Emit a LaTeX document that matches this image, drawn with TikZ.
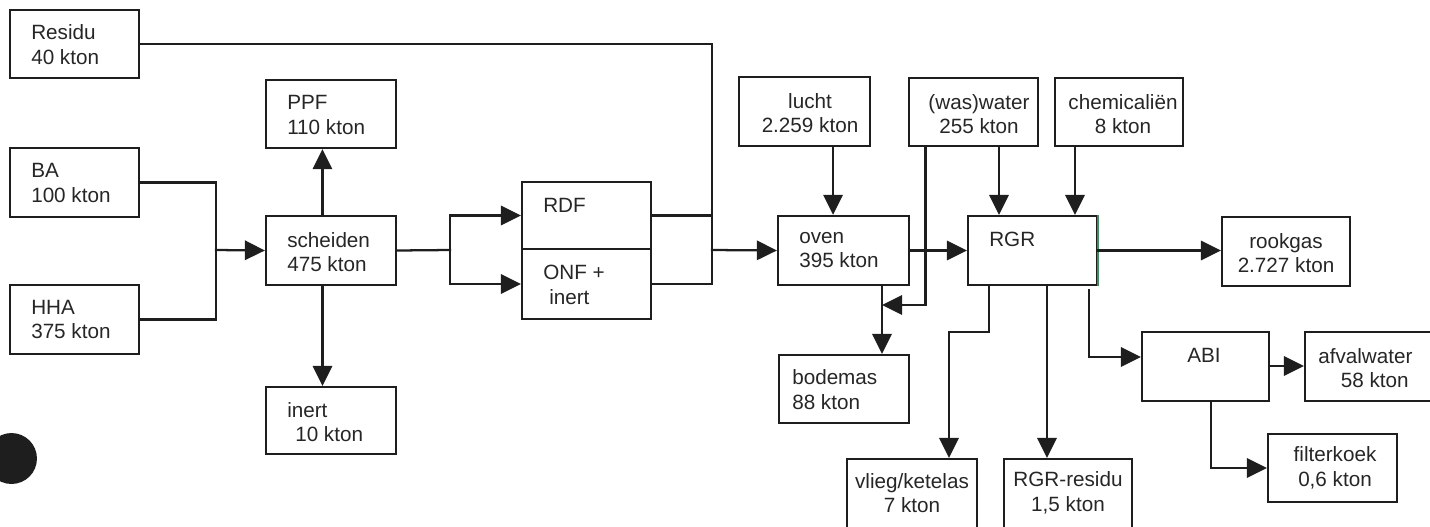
\documentclass[tikz,border=0pt]{standalone}
\usepackage{fontspec}
\setmainfont{Liberation Sans}
\usetikzlibrary{arrows.meta,fit}
\definecolor{ink}{HTML}{1E1E1E}
\definecolor{txt}{HTML}{262626}
\definecolor{edge}{HTML}{3C8C64}

\begin{document}
\begin{tikzpicture}[x=0.75pt,y=-0.75pt,
  box/.style={draw=ink,line width=1.7pt,inner sep=0pt,rectangle},
  lbl/.style={text=txt,inner sep=0pt,font=\fontsize{15.5pt}{18.5pt}\selectfont},
  lw/.style={lbl,anchor=west,align=left},
  lc/.style={lbl,anchor=center,align=center},
  link/.style={draw=ink,line width=1.7pt,line cap=rect},
  flow/.style={link,-{Triangle[length=15pt,width=14.5pt]}}]

\useasboundingbox (0,0) rectangle (1430,526);

% ---------- boxes ----------
\node[box,fit={(10,10) (139,78)}]      (residu)  {};
\node[box,fit={(10,148) (139,217)}]    (ba)      {};
\node[box,fit={(10,285) (139,354)}]    (hha)     {};
\node[box,fit={(266,80) (396,148)}]    (ppf)     {};
\node[box,fit={(266,216) (396,285)}]   (scheiden){};
\node[box,fit={(266,387) (396,454)}]   (inert)   {};
\node[box,fit={(522,182) (651,249)}]   (rdf)     {};
\node[box,fit={(522,249) (651,319)}]   (onf)     {};
\node[box,fit={(739,77) (870,146)}]    (lucht)   {};
\node[box,fit={(778,216) (909,285)}]   (oven)    {};
\node[box,fit={(779,355) (909,423)}]   (bodemas) {};
\node[box,fit={(909,78) (1038,146)}]   (water)   {};
\node[box,fit={(1055,78) (1183,146)}]  (chem)    {};
\node[box,fit={(968,216) (1097,285)}]  (rgr)     {};
\draw[edge,line width=1.7pt] (rgr.north east) -- (rgr.south east);
\node[box,fit={(1222,217) (1350,286)}] (rookgas) {};
\node[box,fit={(1142,332) (1269,401)}] (abi)     {};
\node[box,fit={(1305,332) (1440,401)}] (afval)   {};
\node[box,fit={(1268,434) (1397,502)}] (filter)  {};
\node[box,fit={(847,459) (977,532)}]   (vlieg)   {};
\node[box,fit={(1004,459) (1132,532)}] (rgrres)  {};

% ---------- labels ----------
\node[lw] (t-residu)   at (31,44.5)  {Residu\\40 kton};
\node[lw] (t-ba)       at (31,183)   {BA\\100 kton};
\node[lw] (t-hha)      at (31,319.5) {HHA\\375 kton};
\node[lw] (t-ppf)      at (287,115)  {PPF\\110 kton};
\node[lw] (t-scheiden) at (287,252)  {scheiden\\475 kton};
\node[lw] (t-inert)    at (287,422)  {inert\\\hspace*{6pt}10 kton};
\node[lw] (t-rdf)      at (543,205)  {RDF};
\node[lw] (t-onf)      at (543,285)  {ONF +\\\hspace*{4.5pt}inert};
\node[lc] (t-lucht)    at (810,113)  {lucht\\2.259 kton};
\node[lw] (t-oven)     at (799,250)  {oven\\395 kton};
\node[lw] (t-bodemas)  at (792,389.5){bodemas\\88 kton};
\node[lc] (t-water)    at (979,114)  {(was)water\\255 kton};
\node[lc] (t-chem)     at (1123,114) {chemicaliën\\8 kton};
\node[lw] (t-rgr)      at (989,239.5){RGR};
\node[lc] (t-rookgas)  at (1286,253) {rookgas\\2.727 kton};
\node[lc] (t-abi)      at (1204,355.5){ABI};
\node[lw] (t-afval)    at (1318,368) {afvalwater\\\hspace*{17pt}58 kton};
\node[lc] (t-filter)   at (1335,468) {filterkoek\\0,6 kton};
\node[lc] (t-vlieg)    at (912,493)  {vlieg/ketelas\\7 kton};
\node[lc] (t-rgrres)   at (1068,493) {RGR-residu\\1,5 kton};

% ---------- junction points ----------
\coordinate (j1)  at (216,250);
\coordinate (j2)  at (450,250);
\coordinate (mrg) at (712,250);
\coordinate (bj)  at (882,305);
\coordinate (wd)  at (925.5,305);
\coordinate (k1)  at (989,332);
\coordinate (k2)  at (949,332);
\coordinate (k3)  at (1047,300);
\coordinate (k4)  at (1089,357);
\coordinate (k5)  at (1211,468);

% ---------- connectors ----------
% feed into separation
\draw[link] (ba.east) -| (j1) |- (hha.east);
\draw[flow] (j1) -- (scheiden.west);
\draw[flow] ([xshift=-6.4pt]scheiden.north) -- ([xshift=-6.4pt]ppf.south);
\draw[flow] ([xshift=-6.4pt]scheiden.south) -- ([xshift=-6.4pt]inert.north);

% separation into RDF / ONF
\draw[link] (scheiden.east) -- (j2);
\draw[flow] (j2) |- (rdf.west);
\draw[flow] (j2) |- (onf.west);

% residue, RDF and ONF merge towards the furnace
\draw[link] (residu.east) -| (mrg |- onf.east) -- (onf.east);
\draw[link] (rdf.east) -- (rdf.east -| mrg);
\draw[flow] (mrg) -- (oven.west);

% furnace
\draw[flow] ([xshift=21.4pt]lucht.south) -- ([xshift=21.4pt]lucht.south |- oven.north);
\draw[flow] (bj |- oven.south) -- (bj |- bodemas.north);
\draw[flow] (water.south -| wd) -- (wd) -- (bj);
\draw[flow] (oven.east) -- (rgr.west);

% flue gas cleaning
\draw[flow] ([xshift=19.1pt]water.south) -- ([xshift=19.1pt]water.south |- rgr.north);
\draw[flow] ([xshift=-33pt]chem.south) -- ([xshift=-33pt]chem.south |- rgr.north);
\draw[flow] (rgr.east) -- (rgr.east -| rookgas.west);
\draw[flow] (rgr.south -| k1) -- (k1) -- (k2) -- (k2 |- vlieg.north);
\draw[flow] (rgr.south -| k3) -- (k3 |- rgrres.north);
\draw[flow] ([yshift=-3pt]rgr.south -| k4) -- (k4) -- (k4 -| abi.west);

% waste water treatment
\draw[flow] (abi.east |- 0,366) -- (afval.west |- 0,366);
\draw[flow] (abi.south -| k5) -- (k5) -- (filter.west);

% margin mark
\fill[ink] (11.5,458.5) circle (19.1pt);
\end{tikzpicture}
\end{document}
